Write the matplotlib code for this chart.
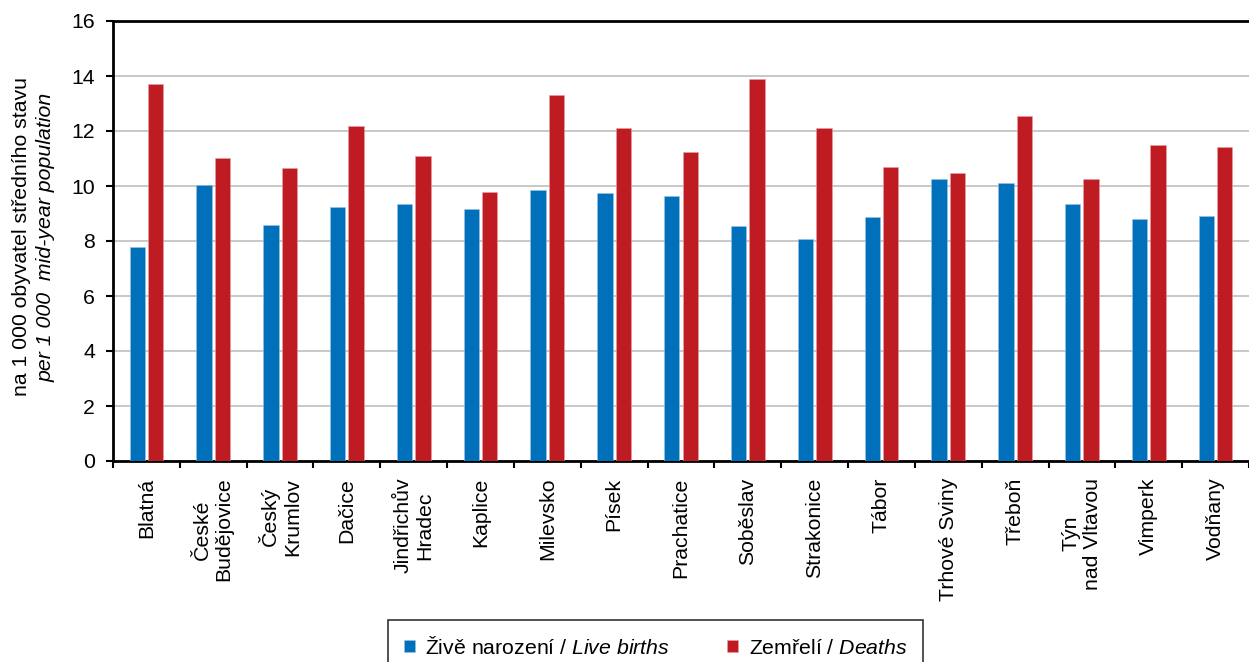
import numpy as np
import matplotlib
matplotlib.use("Agg")
import matplotlib.pyplot as plt

plt.rcParams['font.family'] = ['Liberation Sans', 'DejaVu Sans']
plt.rcParams['mathtext.fontset'] = 'custom'
plt.rcParams['mathtext.rm'] = 'Liberation Sans'
plt.rcParams['mathtext.it'] = 'Liberation Sans:italic'

# data
towns = ["Blatná", "České\nBudějovice", "Český\nKrumlov", "Dačice", "Jindřichův\nHradec",
         "Kaplice", "Milevsko", "Písek", "Prachatice", "Soběslav", "Strakonice", "Tábor",
         "Trhové Sviny", "Třeboň", "Týn\nnad Vltavou", "Vimperk", "Vodňany"]
births = [7.78, 10.02, 8.58, 9.22, 9.35, 9.15, 9.84, 9.73, 9.64, 8.55, 8.08, 8.87,
          10.27, 10.10, 9.35, 8.80, 8.92]
deaths = [13.72, 11.02, 10.65, 12.20, 11.08, 9.79, 13.31, 12.12, 11.24, 13.90, 12.10,
          10.68, 10.48, 12.53, 10.25, 11.49, 11.43]

blue = '#0070BA'
red = '#BE1B23'
fs = 15.3

fig = plt.figure(figsize=(12.49, 6.62), dpi=100)
ax = fig.add_axes([113/1249, 1-461/662, 1-113/1249, 440/662])

x = np.arange(len(towns))
w = 0.23
ax.bar(x - 0.138, births, w, color=blue, edgecolor='#9cc3e6', linewidth=0.4, zorder=3,
       label="Živě narození / $\\it{Live\\ births}$")
ax.bar(x + 0.138, deaths, w, color=red, edgecolor='#e8a0a4', linewidth=0.4, zorder=3,
       label="Zemřelí / $\\it{Deaths}$")

ax.set_xlim(-0.5, len(towns) - 0.5)
ax.set_ylim(0, 16)
ax.set_yticks(range(0, 17, 2))
ax.yaxis.grid(True, color='#BFBFBF', linewidth=1.2, zorder=0)
ax.tick_params(axis='y', labelsize=fs, length=5, width=1.5, direction='out', pad=8)

# category ticks at boundaries, labels at centres
ax.set_xticks(np.arange(len(towns) + 1) - 0.5)
ax.set_xticklabels([])
ax.set_xticks(x, minor=True)
ax.set_xticklabels(towns, minor=True, rotation=90, fontsize=fs, ha='center', va='top',
                   multialignment='center')
ax.tick_params(axis='x', which='major', length=5, width=1.5, direction='out')
ax.tick_params(axis='x', which='minor', length=0, pad=12)

for s in ['left', 'bottom', 'top']:
    ax.spines[s].set_linewidth(2)
ax.spines['right'].set_visible(False)

fig.text(22/1249, 1-237/662, "na 1 000 obyvatel středního stavu", rotation=90,
         ha='center', va='center', fontsize=fs)
fig.text(46/1249, 1-237/662, "per 1 000  mid-year population", rotation=90,
         ha='center', va='center', fontsize=fs, style='italic')

leg = fig.legend(loc='upper left', bbox_to_anchor=(388/1249, 1-620/662), ncol=2,
                 fontsize=fs, frameon=True, fancybox=False, edgecolor='black',
                 handlelength=0.5, handleheight=0.5, handletextpad=0.5,
                 columnspacing=2.7, borderpad=0.75, borderaxespad=0)
leg.get_frame().set_linewidth(1.2)

fig.savefig("out.png", dpi=100)
